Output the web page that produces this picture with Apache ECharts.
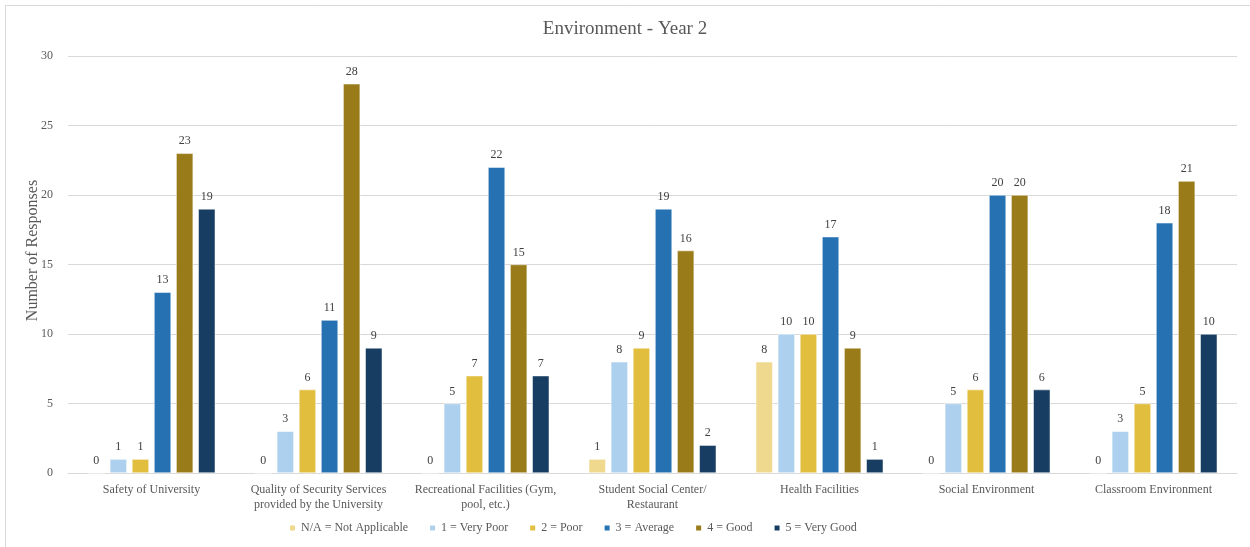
<!DOCTYPE html>
<html>
<head>
<meta charset="utf-8">
<script src="https://cdn.jsdelivr.net/npm/echarts@6/dist/echarts.min.js"></script>
<style>
  html, body { margin: 0; padding: 0; background: #fff; }
  #chart { width: 1250px; height: 547px; }
</style>
</head>
<body>
<div id="chart"></div>
<script>
// Survey items (x-axis categories)
const categories = [
  'Safety of University',
  'Quality of Security Services\nprovided by the University',
  'Recreational Facilities (Gym,\npool, etc.)',
  'Student Social Center/\nRestaurant',
  'Health Facilities',
  'Social Environment',
  'Classroom Environment'
];

// Rating levels (legend)
const ratingNames = [
  'N/A = Not Applicable',
  '1 = Very Poor',
  '2 = Poor',
  '3 = Average',
  '4 = Good',
  '5 = Very Good'
];

// Responses per rating, one value per category
const notApplicable = [0, 0, 0, 1, 8, 0, 0];
const veryPoor      = [1, 3, 5, 8, 10, 5, 3];
const poor          = [1, 6, 7, 9, 10, 6, 5];
const average       = [13, 11, 22, 19, 17, 20, 18];
const good          = [23, 28, 15, 16, 9, 20, 21];
const veryGood      = [19, 9, 7, 2, 1, 6, 10];

// Y axis ticks
const yMin = 0, yMax = 30, yStep = 5;

const seriesValues = [notApplicable, veryPoor, poor, average, good, veryGood];
const colors = ['#EFD98E', '#ADD0EE', '#E2BE3F', '#2571B2', '#9A7B1A', '#173E62'];

const font = '"Liberation Serif", "Times New Roman", serif';

const chart = echarts.init(document.getElementById('chart'));
chart.setOption({
  backgroundColor: '#fff',
  color: colors,
  textStyle: { fontFamily: font },
  title: {
    text: 'Environment - Year 2',
    left: 'center',
    top: 15,
    textStyle: { fontFamily: font, fontSize: 19, fontWeight: 'normal', color: '#595959' }
  },
  // chart frame (runs off the right and bottom edges)
  graphic: [{
    type: 'rect',
    shape: { x: 5.5, y: 5.5, width: 1300, height: 600 },
    style: { fill: 'none', stroke: '#d9d9d9', lineWidth: 1 },
    silent: true
  }],
  legend: {
    data: ratingNames,
    bottom: 8,
    left: 283,
    itemWidth: 7,
    itemHeight: 7,
    itemGap: 20,
    icon: 'rect',
    textStyle: { fontFamily: font, fontSize: 12, color: '#595959' }
  },
  grid: { left: 68, right: 13, top: 56, bottom: 74, containLabel: false },
  xAxis: {
    type: 'category',
    data: categories,
    axisLine: { lineStyle: { color: '#d9d9d9' } },
    axisTick: { show: false },
    axisLabel: {
      fontFamily: font, fontSize: 12, color: '#595959',
      margin: 9, lineHeight: 15, interval: 0
    }
  },
  yAxis: {
    type: 'value',
    min: yMin, max: yMax, interval: yStep,
    name: 'Number of Responses',
    nameLocation: 'middle',
    nameGap: 27,
    nameMoveOverlap: false,
    nameTextStyle: {
      fontFamily: font, fontSize: 16, color: '#595959',
      padding: [0, 0, 0, 28]
    },
    axisLine: { show: false },
    axisTick: { show: false },
    axisLabel: { fontFamily: font, fontSize: 12, color: '#595959', margin: 15 },
    splitLine: { lineStyle: { color: '#d9d9d9' } }
  },
  series: ratingNames.map((name, i) => ({
    name,
    type: 'bar',
    data: seriesValues[i],
    barWidth: 17,
    barGap: '30%',
    itemStyle: { color: colors[i], borderColor: '#ffffff', borderWidth: 0.5 },
    label: {
      show: true,
      position: 'top',
      distance: 6,
      fontFamily: font,
      fontSize: 12,
      color: '#404040'
    }
  }))
});
</script>
</body>
</html>
